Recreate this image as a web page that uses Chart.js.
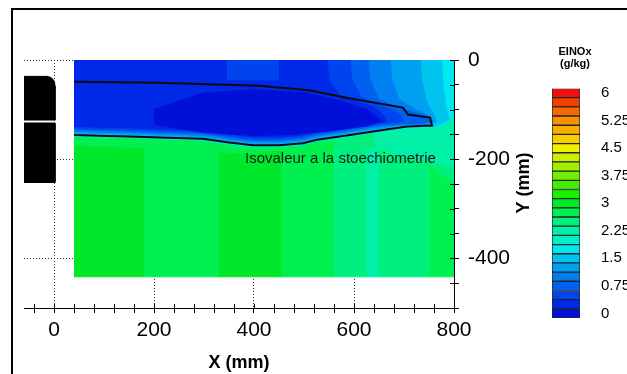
<!DOCTYPE html>
<html><head><meta charset="utf-8">
<script src="https://cdn.jsdelivr.net/npm/chart.js@4/dist/chart.umd.min.js"></script>
<style>
html,body{margin:0;padding:0;background:#fff;}
#wrap{position:relative;width:627px;height:374px;overflow:hidden;background:#fff;}
#frame{position:absolute;left:11px;top:8px;width:700px;height:400px;border-left:2px solid #000;border-top:2px solid #000;}
#main{position:absolute;left:0;top:0;}
#bar{position:absolute;left:540px;top:40px;}
</style></head><body>
<div id="wrap"><div id="frame"></div>
<canvas id="main" width="627" height="374"></canvas>
<canvas id="bar" width="87" height="300"></canvas></div>
<script>
// ---------- axes / ticks ----------
const xTicks = [-40,0,40,80,120,160,200,240,280,320,360,400,440,480,520,560,600,640,680,720,760,800];
const xLabels = [0,200,400,600,800];
const xGrid = [0,200,400,600];
const yTicks = [0,-50,-100,-150,-200,-250,-300,-350,-400,-450,-500];
const yLabels = [0,-200,-400];
const yGrid = [0,-200,-400];

// ---------- colour legend (EINOx, g/kg) ----------
const levels = [0,0.25,0.5,0.75,1,1.25,1.5,1.75,2,2.25,2.5,2.75,3,3.25,3.5,3.75,4,4.25,4.5,4.75,5,5.25,5.5,5.75,6];
const levelColors = ['#0010D8','#0028E8','#0044F0','#0060F0','#0080F0','#00A0F0','#00C4F0','#00E8F0','#00F0CC','#00F0A8','#00F080','#00F050','#00E82A','#18F000','#40F000','#70F000','#A0F000','#C8F000','#F0F000','#F8D000','#F8B000','#F89000','#F86800','#F04000','#F01010'];
const legendTicks = [0,0.75,1.5,2.25,3,3.75,4.5,5.25,6];

// ---------- field: lower zone stripes (x edges in mm, values) ----------
const stripeEdges = [40,180,330,455,560,625,650,750,800];
const stripeValues = [3,2.75,3,2.75,2.5,2.25,2.5,2.75];
const fieldYTop = 0;
const fieldYBottom = -437;

// ---------- iso-value regions (mm) ----------
const g275X = [40,106,152,212,298,346,398,450,498,526,592,592,526,498,450,398,346,298,212,152,106,40];
const g275Y = [-151,-153,-154,-156,-159,-166,-172,-172,-168,-161,-151,-165,-172,-178,-182,-188,-186,-180,-178,-176,-174,-172];
const g250X = [560,592,658,706,756,800,800,718,640,560];
const g250Y = [-150,-145,-130,-125,-120,-110,-250,-182,-178,-172];
const g225X = [640,700,760,800,800,740,680,640];
const g225Y = [-135,-128,-118,-110,-215,-200,-190,-172];
const c175X = [40,800,800,780,756,706,658,592,526,498,450,398,346,298,212,152,106,40];
const c175Y = [0,0,-115,-130,-136,-137,-144,-154,-164,-171,-175,-175,-169,-162,-159,-157,-156,-154];
const c150X = [40,775,778,785,790,770,756,706,658,592,526,498,450,398,346,298,212,152,106,40];
const c150Y = [0,0,-50,-100,-120,-130,-133,-133,-140,-150,-160,-167,-171,-171,-165,-158,-155,-153,-152,-150];
const c125X = [40,732,735,745,760,765,750,706,658,592,526,498,450,398,346,298,212,152,106,40];
const c125Y = [0,0,-40,-85,-110,-124,-130,-130,-137,-147,-157,-164,-168,-168,-162,-155,-152,-150,-149,-147];
const c100X = [40,672,676,690,720,745,760,745,706,658,592,526,498,450,398,346,298,212,152,106,40];
const c100Y = [0,0,-40,-80,-98,-110,-124,-130,-130,-134,-144,-154,-161,-165,-165,-159,-152,-149,-147,-146,-144];
const c075X = [40,628,632,650,700,740,752,730,706,658,592,526,498,450,398,346,298,212,152,106,40];
const c075Y = [0,0,-40,-80,-100,-112,-124,-128,-128,-131,-141,-151,-158,-162,-162,-156,-149,-146,-144,-143,-141];
const c050X = [40,592,596,615,660,690,700,690,658,592,526,498,450,398,346,298,212,152,106,40];
const c050Y = [0,0,-40,-75,-95,-108,-122,-126,-128,-138,-148,-155,-159,-159,-153,-146,-143,-141,-140,-138];
const c025X = [40,546,550,570,600,640,660,665,640,592,526,498,450,398,346,298,212,152,106,40];
const c025Y = [0,0,-40,-70,-82,-95,-112,-125,-127,-134,-144,-151,-155,-155,-149,-142,-139,-137,-136,-134];
const patchX = [346,448,448,346];
const patchY = [0,0,-40,-40];
const coreX = [200,300,400,500,570,625,655,630,560,480,400,300,200];
const coreY = [-100,-66,-60,-66,-82,-100,-122,-132,-142,-150,-152,-146,-130];

// stoichiometric iso-line
const contourX = [40,210,410,510,590,698,708,752,756,706,658,592,526,498,450,398,346,298,212,152,106,40];
const contourY = [-44,-46,-52,-61,-77,-96,-110,-116,-132,-134,-141,-151,-161,-168,-172,-172,-166,-159,-156,-154,-153,-151];
const annotText = 'Isovaleur a la stoechiometrie';
const annotX = 382, annotY = -200;

// injector (black body)
const injTopX = [-62,-14,-7,-2,1,2,2,-62];
const injTopY = [-33,-33,-35,-39,-45,-52,-121,-121];
const injBotX = [-62,2,2,-62];
const injBotY = [-127,-127,-247,-247];

// ---------- build ----------
const FONT = "'Liberation Sans', Arial, Helvetica, sans-serif";
function colorOf(v){ return levelColors[levels.indexOf(v)]; }
function pts(xs, ys){ return xs.map((x,i)=>({x:x, y:ys[i]})); }
const layers = [];
function addPoly(xs, ys, color){
  layers.push({data: pts(xs, ys), showLine:true, fill:'shape', backgroundColor:color,
    borderColor:color, borderWidth:1, pointRadius:0, pointHoverRadius:0, tension:0});
}
for (let i=0;i<stripeValues.length;i++){
  const a = stripeEdges[i], b = stripeEdges[i+1];
  addPoly([a,b,b,a],[fieldYTop,fieldYTop,fieldYBottom,fieldYBottom], colorOf(stripeValues[i]));
}
addPoly(g275X, g275Y, colorOf(2.75));
addPoly(g250X, g250Y, colorOf(2.5));
addPoly(g225X, g225Y, colorOf(2.25));
addPoly(c175X, c175Y, colorOf(1.75));
addPoly(c150X, c150Y, colorOf(1.5));
addPoly(c125X, c125Y, colorOf(1.25));
addPoly(c100X, c100Y, colorOf(1));
addPoly(c075X, c075Y, colorOf(0.75));
addPoly(c050X, c050Y, colorOf(0.5));
addPoly(c025X, c025Y, colorOf(0.25));
addPoly(patchX, patchY, colorOf(0.5));
addPoly(coreX, coreY, colorOf(0));
addPoly(injTopX, injTopY, '#000');
addPoly(injBotX, injBotY, '#000');
layers.push({data: pts(contourX, contourY), showLine:true, fill:false, borderColor:'#0a0a0a',
  borderWidth:2, pointRadius:0, pointHoverRadius:0, tension:0});
layers.forEach((d,i)=>{ d.order = layers.length - i; });

const extras = {
  id:'extras',
  afterDatasetsDraw(chart){
    const c = chart.ctx, xs = chart.scales.x, ys = chart.scales.y;
    c.save();
    c.font = '15px ' + FONT; c.fillStyle = '#161616';
    c.textAlign = 'left'; c.textBaseline = 'middle';
    c.fillText(annotText, xs.getPixelForValue(annotX), ys.getPixelForValue(annotY));
    c.restore();
  },
  afterDraw(chart){
    const c = chart.ctx, xs = chart.scales.x, ys = chart.scales.y, a = chart.chartArea;
    c.save();
    c.strokeStyle = '#000'; c.lineWidth = 1;
    c.beginPath();
    xTicks.forEach(v=>{ const p = Math.round(xs.getPixelForValue(v))+0.5; c.moveTo(p, a.bottom); c.lineTo(p, a.bottom-4); });
    yTicks.forEach(v=>{ const p = Math.round(ys.getPixelForValue(v))+0.5; c.moveTo(a.right, p); c.lineTo(a.right-4, p); });
    c.stroke();
    c.translate(524, 183); c.rotate(-Math.PI/2);
    c.font = 'bold 18px ' + FONT; c.fillStyle = '#000';
    c.textAlign = 'center'; c.textBaseline = 'middle';
    c.fillText('Y (mm)', 0, 0);
    c.restore();
  }
};

new Chart(document.getElementById('main'), {
  type:'scatter',
  data:{datasets: layers},
  options:{
    responsive:false, animation:false, events:[],
    layout:{padding:{left:24, top:60, right:0, bottom:0}},
    plugins:{legend:{display:false}, tooltip:{enabled:false}},
    scales:{
      x:{type:'linear', position:'bottom', min:-60, max:800, z:1,
        afterBuildTicks: s => { s.ticks = xTicks.map(v=>({value:v})); },
        afterFit: s => { s.height = 66; },
        ticks:{autoSkip:false, maxRotation:0, padding:5, color:'#000', font:{family:FONT, size:21},
          callback: v => xLabels.includes(v) ? String(v) : ''},
        grid:{color: c => xGrid.includes(c.tick && c.tick.value) ? '#333' : 'rgba(0,0,0,0)',
          lineWidth:1, tickLength:5, tickColor:'#000', tickWidth:1},
        border:{display:true, color:'#000', width:1, dash:[1,2]},
        title:{display:true, text:'X (mm)', color:'#000', font:{family:FONT, size:18, weight:'bold'}, padding:{top:0, bottom:0}}
      },
      y:{type:'linear', position:'right', min:-500, max:0, z:1,
        afterBuildTicks: s => { s.ticks = yTicks.map(v=>({value:v})); },
        afterFit: s => { s.width = 173; },
        ticks:{autoSkip:false, padding:9, color:'#000', font:{family:FONT, size:21},
          callback: v => yLabels.includes(v) ? String(v) : ''},
        grid:{color: c => yGrid.includes(c.tick && c.tick.value) ? '#333' : 'rgba(0,0,0,0)',
          lineWidth:1, tickLength:5, tickColor:'#000', tickWidth:1},
        border:{display:true, color:'#000', width:1, dash:[1,2]}
      }
    }
  },
  plugins:[extras]
});

// ---------- colour bar ----------
const barTitle = {
  id:'barTitle',
  afterDraw(chart){
    const c = chart.ctx;
    c.save();
    c.font = 'bold 11px ' + FONT; c.fillStyle = '#000';
    c.textAlign = 'center'; c.textBaseline = 'middle';
    c.fillText('EINOx', 35, 12);
    c.fillText('(g/kg)', 35, 24);
    c.restore();
  }
};
new Chart(document.getElementById('bar'), {
  type:'bar',
  data:{labels:['EINOx'], datasets: levels.map((lv,i)=>({
    data:[[lv-0.125, lv+0.125]], backgroundColor: levelColors[i], borderColor:'#262626',
    borderWidth:1, borderSkipped:false, grouped:false, barPercentage:1, categoryPercentage:1}))},
  options:{
    responsive:false, animation:false, events:[],
    layout:{padding:{left:12, top:48.5, right:0, bottom:20.5}},
    plugins:{legend:{display:false}, tooltip:{enabled:false}},
    scales:{
      x:{display:false},
      y:{position:'right', min:-0.125, max:6.125,
        afterBuildTicks: s => { s.ticks = legendTicks.map(v=>({value:v})); },
        afterFit: s => { s.width = 47; },
        grid:{display:false}, border:{display:false},
        ticks:{padding:13, color:'#000', font:{family:FONT, size:15}, callback: v => String(v)}}
    }
  },
  plugins:[barTitle]
});
</script>
</body></html>
